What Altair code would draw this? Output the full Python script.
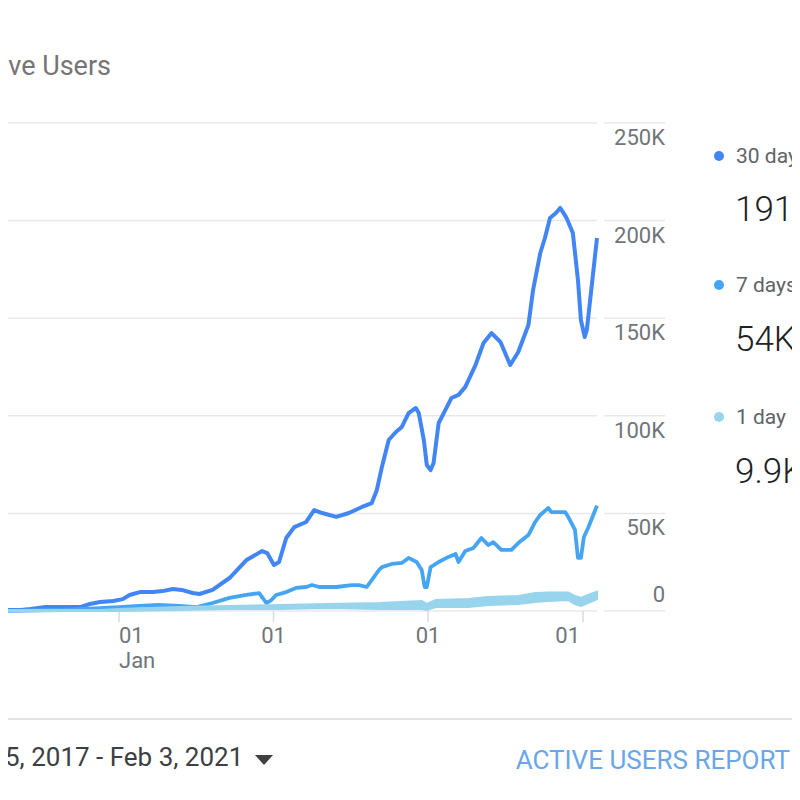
import altair as alt
import pandas as pd

# ---------------- data ----------------
dates30 = ["2017-03-25","2017-05-13","2017-06-06","2017-07-11","2017-09-01","2017-10-01","2017-10-24","2017-11-17","2017-12-18",
           "2018-01-10","2018-01-26","2018-02-19","2018-03-22","2018-04-14","2018-05-08","2018-05-29","2018-06-24","2018-07-10",
           "2018-08-10","2018-09-19","2018-10-29","2018-12-05","2018-12-17","2019-01-02","2019-01-14","2019-01-31","2019-02-19",
           "2019-03-19","2019-04-07","2019-04-26","2019-05-29","2019-06-28","2019-07-29","2019-08-21","2019-09-02","2019-09-14",
           "2019-09-30","2019-10-17","2019-10-31","2019-11-16","2019-12-03","2019-12-10","2019-12-22","2019-12-29","2020-01-07",
           "2020-01-14","2020-01-26","2020-02-11","2020-02-25","2020-03-13","2020-03-29","2020-04-22","2020-05-11","2020-05-30",
           "2020-06-20","2020-07-13","2020-08-01","2020-08-25","2020-09-05","2020-09-22","2020-10-03","2020-10-15","2020-10-29",
           "2020-11-08","2020-11-22","2020-12-08","2020-12-20","2020-12-27","2021-01-05","2021-01-10","2021-02-03"]
users30 = [0.5,0.5,1.0,2.0,2.0,2.0,3.6,4.6,5.1,
           6.1,8.2,9.7,9.7,10.2,11.3,10.8,9.2,8.7,
           10.8,16.9,26.1,30.7,29.7,23.6,25.1,37.4,43.0,
           45.6,51.7,50.2,48.2,50.2,53.3,55.3,62.0,73.8,
           87.6,91.7,94.3,101.4,104.0,101.4,87.6,74.8,72.2,
           75.8,96.3,103.0,109.1,110.7,114.8,126.0,137.3,142.4,
           137.8,126.0,132.7,146.5,164.4,183.4,191.1,201.3,203.9,
           206.5,201.8,193.6,169.6,149.1,140.4,144.0,191.1]

dates7 = ["2017-03-25","2017-08-15","2017-11-17","2018-01-01","2018-02-17","2018-04-05","2018-05-24","2018-07-03","2018-08-10",
          "2018-09-19","2018-10-29","2018-11-28","2018-12-15","2018-12-27","2019-01-07","2019-01-31","2019-02-23","2019-03-19",
          "2019-04-02","2019-04-19","2019-05-29","2019-07-05","2019-07-22","2019-08-09","2019-08-26","2019-09-07","2019-09-14",
          "2019-10-07","2019-10-31","2019-11-16","2019-12-05","2019-12-17","2019-12-24","2019-12-29","2020-01-07","2020-01-26",
          "2020-02-18","2020-03-06","2020-03-13","2020-03-29","2020-04-17","2020-05-06","2020-05-22","2020-06-03","2020-06-22",
          "2020-07-16","2020-08-01","2020-08-25","2020-09-10","2020-09-22","2020-10-11","2020-10-18","2020-11-20","2020-11-27",
          "2020-12-13","2020-12-20","2020-12-27","2021-01-03","2021-01-13","2021-02-03"]
users7 = [0.0,0.5,1.5,2.0,2.6,3.1,2.6,2.0,4.1,
          6.7,8.2,9.2,4.1,5.6,8.2,9.7,11.8,12.3,
          13.3,12.3,12.3,13.3,13.3,12.3,17.4,21.0,22.5,
          24.1,24.6,27.2,25.1,21.0,12.3,12.3,22.5,25.1,
          27.7,29.2,25.1,30.7,32.3,37.4,33.8,35.3,31.3,
          31.3,34.8,38.9,45.6,49.2,52.8,50.7,50.7,48.2,
          41.5,27.2,27.2,37.9,42.5,54.0]

dates1 = ["2017-03-25","2017-11-17","2018-01-01","2018-05-24","2018-09-19","2019-01-14","2019-05-12","2019-09-07","2019-12-17",
          "2019-12-29","2020-01-19","2020-04-05","2020-05-22","2020-08-01","2020-09-10","2020-10-11","2020-11-27","2020-12-13",
          "2020-12-27","2021-01-13","2021-02-03"]
users1_low = [0.0,0.0,0.0,0.5,1.0,1.0,1.5,1.0,1.0,
              0.5,2.0,2.0,3.1,3.6,4.6,5.1,5.6,3.6,
              2.6,4.1,6.1]
users1_high = [0.5,0.5,1.0,2.0,2.6,3.1,3.6,4.1,5.1,
               3.6,5.6,6.1,7.2,7.7,9.2,9.5,9.5,7.7,
               6.7,8.2,9.9]

y_ticks = [0, 50000, 100000, 150000, 200000, 250000]
y_tick_labels = ["0", "50K", "100K", "150K", "200K", "250K"]
x_tick_dates = ["2018-01-01", "2019-01-01", "2020-01-01", "2021-01-01"]
x_tick_labels = ["01", "01", "01", "01"]

legend_labels = ["30 days", "7 days", "1 day"]
legend_values = ["191K", "54K", "9.9K"]
series_colors = ["#4285f4", "#46a5f3", "#98d4ec"]

title_text = "Active Users"
date_range_text = "5, 2017 - Feb 3, 2021"
report_text = "ACTIVE USERS REPORT"

# ---------------- tables ----------------
K = 1000
df30 = pd.DataFrame({"date": dates30, "users": [v * K for v in users30]})
df7 = pd.DataFrame({"date": dates7, "users": [v * K for v in users7]})
df1 = pd.DataFrame({"date": dates1, "low": [v * K for v in users1_low], "high": [v * K for v in users1_high]})
grid = pd.DataFrame({"v": y_ticks, "label": y_tick_labels})
xt = pd.DataFrame({"date": x_tick_dates, "label": x_tick_labels})

FONT = "Roboto"
x_scale = alt.Scale(type="utc",
                    domain=[alt.DateTime(year=2018, month=1, date=1, utc=True),
                            alt.DateTime(year=2021, month=2, date=3, utc=True)],
                    range=[119, 597], nice=False)
y_scale = alt.Scale(domain=[0, 250000], range=[611, 123], nice=False, zero=False)

X = alt.X("date:T", scale=x_scale, axis=None)
Y = lambda f: alt.Y(f, scale=y_scale, axis=None)

layers = []

# grid lines (left part and short part above the labels)
layers.append(alt.Chart(grid).mark_rule(color="#e8e8e8", strokeWidth=1.5).encode(
    y=Y("v:Q"), x=alt.value(0), x2=alt.value(597)))
layers.append(alt.Chart(grid).mark_rule(color="#e8e8e8", strokeWidth=1.5).encode(
    y=Y("v:Q"), x=alt.value(604), x2=alt.value(665)))

# y labels
layers.append(alt.Chart(grid).transform_filter("datum.v > 0").mark_text(
    align="right", baseline="middle", dy=15, font=FONT, fontSize=22, color="#70757a").encode(
    y=Y("v:Q"), x=alt.value(665), text="label:N"))
layers.append(alt.Chart(grid).transform_filter("datum.v == 0").mark_text(
    align="right", baseline="middle", dy=-16, font=FONT, fontSize=22, color="#70757a").encode(
    y=Y("v:Q"), x=alt.value(665), text="label:N"))

# x ticks + labels
layers.append(alt.Chart(xt).mark_rule(color="#dadada", strokeWidth=1.5).encode(
    x=X, y=alt.value(611), y2=alt.value(622)))
xt_first = alt.Chart(xt).transform_filter("year(datum.date) == 2018")
xt_mid = alt.Chart(xt).transform_filter("year(datum.date) == 2019 || year(datum.date) == 2020")
xt_last = alt.Chart(xt).transform_filter("year(datum.date) == 2021")
lab_style = dict(baseline="middle", font=FONT, fontSize=22, color="#70757a")
layers.append(xt_first.mark_text(align="left", dx=0, **lab_style).encode(x=X, y=alt.value(636), text="label:N"))
layers.append(xt_first.mark_text(align="left", dx=0, **lab_style).encode(x=X, y=alt.value(661), text=alt.value("Jan")))
layers.append(xt_mid.mark_text(align="center", **lab_style).encode(x=X, y=alt.value(636), text="label:N"))
layers.append(xt_last.mark_text(align="right", dx=-3, **lab_style).encode(x=X, y=alt.value(636), text="label:N"))

# series
layers.append(alt.Chart(df30).mark_line(color=series_colors[0], strokeWidth=4, strokeJoin="round").encode(
    x=X, y=Y("users:Q")))
layers.append(alt.Chart(df7).mark_line(color=series_colors[1], strokeWidth=3.8, strokeJoin="round").encode(
    x=X, y=Y("users:Q")))
layers.append(alt.Chart(df1).mark_area(color=series_colors[2], stroke=series_colors[2], strokeWidth=2, opacity=1).encode(
    x=X, y=Y("low:Q"), y2="high:Q"))

# title
layers.append(alt.Chart(pd.DataFrame({"t": [title_text]})).mark_text(
    align="right", baseline="middle", font=FONT, fontSize=27, color="#757575").encode(
    x=alt.value(111), y=alt.value(67), text="t:N"))

# legend
dot_y = [156, 285, 417]
val_y = [210, 340, 472]
for lab, val, col, dy_, vy in zip(legend_labels, legend_values, series_colors, dot_y, val_y):
    one = pd.DataFrame({"lab": [lab], "val": [val]})
    layers.append(alt.Chart(one).mark_point(shape="circle", filled=True, size=100, color=col, opacity=1).encode(
        x=alt.value(719), y=alt.value(dy_)))
    layers.append(alt.Chart(one).mark_text(align="left", baseline="middle", font=FONT, fontSize=21,
                                           color="#5f6368").encode(x=alt.value(736), y=alt.value(dy_ + 1), text="lab:N"))
    layers.append(alt.Chart(one).mark_text(align="left", baseline="middle", font=FONT, fontSize=35,
                                           fontWeight=300, color="#202124").encode(x=alt.value(735), y=alt.value(vy), text="val:N"))

# bottom bar
layers.append(alt.Chart(pd.DataFrame({"a": [0]})).mark_rule(color="#e3e3e3", strokeWidth=2).encode(
    x=alt.value(0), x2=alt.value(800), y=alt.value(719)))
layers.append(alt.Chart(pd.DataFrame({"t": [date_range_text]})).mark_text(
    align="left", baseline="middle", font=FONT, fontSize=26, color="#3c4043").encode(
    x=alt.value(5), y=alt.value(758), text="t:N"))
layers.append(alt.Chart(pd.DataFrame({"a": [0]})).mark_point(
    shape="M-1,-0.55L1,-0.55L0,0.55Z", filled=True, size=324, color="#3c4043", opacity=1).encode(
    x=alt.value(264), y=alt.value(760)))
layers.append(alt.Chart(pd.DataFrame({"t": [report_text]})).mark_text(
    align="right", baseline="middle", font=FONT, fontSize=26, color="#6aa6e8").encode(
    x=alt.value(790), y=alt.value(761), text="t:N"))

chart = alt.layer(*layers).properties(
    width=792, height=784, autosize="none",
    padding={"left": -8, "top": -8, "right": 0, "bottom": 0},
).configure_view(strokeWidth=0)

chart.save("out.html", embed_options={"renderer": "svg", "actions": False})
